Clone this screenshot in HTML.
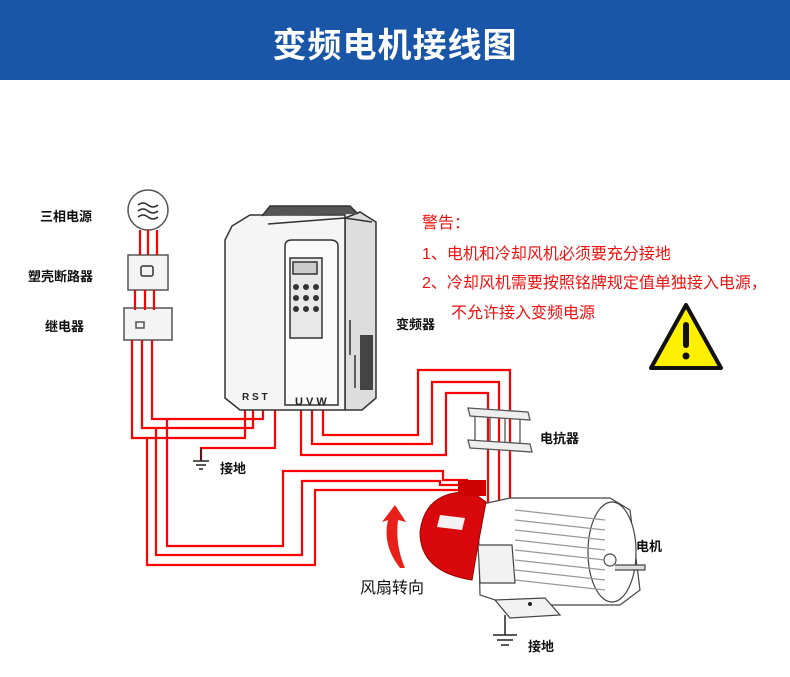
<!DOCTYPE html>
<html><head><meta charset="utf-8"><style>
html,body{margin:0;padding:0;background:#fff;}
body{width:790px;height:677px;overflow:hidden;position:relative;font-family:"Liberation Sans","Noto Sans CJK SC",sans-serif;}
.hdr{position:absolute;left:0;top:0;width:790px;height:80px;background:#1a56a8;}
.hdr div{position:absolute;left:0;width:790px;top:18px;text-align:center;color:#fff;font-size:34px;font-weight:bold;letter-spacing:1px;}
.l{position:absolute;font-size:13px;font-weight:bold;color:#111;white-space:nowrap;}
.r{position:absolute;font-size:16px;color:#f01010;white-space:nowrap;}
</style></head><body>
<div class="hdr"><div>变频电机接线图</div></div>
<svg width="790" height="677" style="position:absolute;left:0;top:0" xmlns="http://www.w3.org/2000/svg">
<g fill="none" stroke="#555" stroke-width="1.5">
 <circle cx="148" cy="210" r="20" fill="#fff"/>
 <path d="M138 205q5-4 10 0t10 0M138 211q5-4 10 0t10 0M138 217q5-4 10 0t10 0" stroke="#333"/>
 <rect x="128" y="255" width="40" height="35" fill="#f4f4f4"/>
 <rect x="141" y="266" width="12" height="10" rx="2" stroke="#333"/>
 <rect x="124" y="308" width="48" height="32" fill="#f4f4f4"/>
 <rect x="136" y="322" width="8" height="6"/>
</g>
<g stroke="#f00" stroke-width="2.2" fill="none">
 <path d="M140 230V255M148 230V255M157 230V255M135 290V310M145 290V310M154 290V310"/>
 <path d="M152 340V419H263V405"/>
 <path d="M142 340V428H253V405"/>
 <path d="M132 340V438H245V405"/>
 <path d="M167 419V546H283V471H443V480H468"/>
 <path d="M156 428V555H302V481H440V485H468"/>
 <path d="M147 438V565H315V490H470"/>
 <path d="M275 408V448H201V460"/>
 <path d="M323 408V435H418V370H510V548"/>
 <path d="M312 408V444H432V382H499V548"/>
 <path d="M301 408V455H446V393H488V548"/>
</g>
<g stroke="#222" stroke-width="1.5">
 <path d="M201 448V461M193 461H209M196 465H206M199 469H203"/>
 <path d="M505 615V635M493 635H517M497 640H513M501 645H509"/>
</g>
<g stroke="#333" stroke-width="1.5" fill="#f5f5f5">
 <path d="M345 218L360 212L376 222V398L362 410H345Z" fill="#ddd"/>
 <path d="M232 226L250 215H345L345 410H240L225 398V240Z"/>
 <path d="M268 224L345 218L372 222" fill="none"/>
 <path d="M285 246Q285 240 292 240H330Q338 240 338 246V405H285Z" fill="#fafafa"/>
 <rect x="290" y="258" width="32" height="80" fill="#e8e8e8"/>
 <rect x="293" y="262" width="24" height="12" fill="#ccc"/>
 <path d="M350 320V355M355 355V388"/>
 <rect x="360" y="335" width="13" height="55" fill="#444" stroke="none"/>
 <path d="M262 216L270 206H350L358 214" fill="#555"/>
</g>
<g fill="#333"><circle cx="296" cy="287" r="3"/><circle cx="306" cy="287" r="3"/><circle cx="316" cy="287" r="3"/><circle cx="296" cy="298" r="3"/><circle cx="306" cy="298" r="3"/><circle cx="316" cy="298" r="3"/><circle cx="296" cy="309" r="3"/><circle cx="306" cy="309" r="3"/><circle cx="316" cy="309" r="3"/></g>
<text x="242" y="400" font-size="10" font-weight="bold" fill="#222" font-family="Liberation Sans">R S T</text>
<text x="295" y="405" font-size="11" font-weight="bold" fill="#222" font-family="Liberation Sans">U V W</text>
<g stroke="#555" stroke-width="1.3" fill="#eee">
 <path d="M468 408L528 412L530 420L470 416Z"/>
 <path d="M468 440L530 444L532 452L470 448Z"/>
 <path d="M475 416V440M490 417V441M505 418V442M520 419V443" fill="none"/>
</g>
<g stroke="#444" stroke-width="1.2" fill="#fff">
 <path d="M478 505L510 498H610L630 510L640 590L620 605H510L480 595Z"/>
 <ellipse cx="612" cy="552" rx="24" ry="50"/>
 <circle cx="610" cy="560" r="6"/>
 <path d="M615 565H645V570H615" fill="#ddd"/>
 <path d="M515 510L605 520M515 520L605 530M515 530L605 540M515 540L605 550M515 550L605 560M515 560L605 570M515 570L605 580M515 580L605 590" fill="none" stroke="#999"/>
 <path d="M478 545H512L515 583H480Z" fill="#f2f2f2"/>
 <path d="M495 600L545 598L560 615L510 618Z" fill="#f2f2f2"/>
</g>
<circle cx="530" cy="604" r="2" fill="#222"/>
<path d="M472 492Q425 490 420 532Q420 572 472 580L478 545L486 502Z" fill="#d8080c" stroke="#900"/>
<rect x="458" y="480" width="28" height="16" fill="#c00"/>
<path d="M440 515L465 518L462 530L437 527Z" fill="#f2f2f2"/>
<path d="M400 568Q382 545 388 520L382 522L395 505L406 522L398 520Q395 545 405 568Z" fill="#e8201a"/>
<path d="M686 305L721 368H651Z" fill="#ffef00" stroke="#111" stroke-width="4" stroke-linejoin="round"/>
<rect x="683" y="322" width="6" height="26" rx="3" fill="#111"/>
<circle cx="686" cy="356" r="3.5" fill="#111"/>
</svg>
<div class="l" style="left:40px;top:206px">三相电源</div>
<div class="l" style="left:28px;top:266px">塑壳断路器</div>
<div class="l" style="left:45px;top:316px">继电器</div>
<div class="l" style="left:396px;top:314px">变频器</div>
<div class="l" style="left:220px;top:458px">接地</div>
<div class="l" style="left:540px;top:428px">电抗器</div>
<div class="l" style="left:636px;top:536px">电机</div>
<div class="l" style="left:528px;top:636px">接地</div>
<div style="position:absolute;left:360px;top:574px;font-size:16px;color:#111">风扇转向</div>
<div class="r" style="left:422px;top:209px">警告：</div>
<div class="r" style="left:422px;top:240px">1、电机和冷却风机必须要充分接地</div>
<div class="r" style="left:422px;top:269px">2、冷却风机需要按照铭牌规定值单独接入电源，</div>
<div class="r" style="left:451px;top:299px">不允许接入变频电源</div>
</body></html>
